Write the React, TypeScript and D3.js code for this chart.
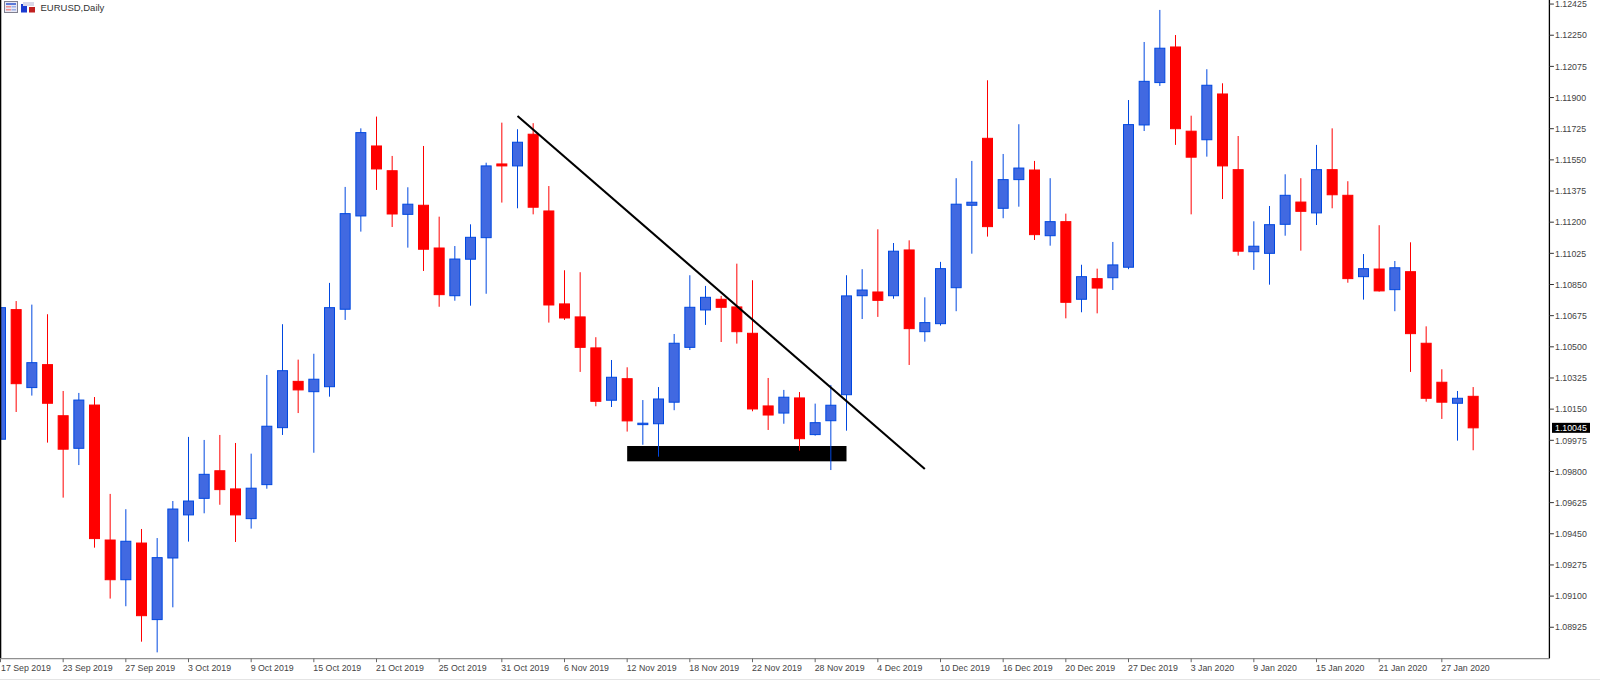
import React from "react";
import * as d3 from "d3";

const opens = [1.09981,1.10709,1.10271,1.10400,1.10113,1.09930,1.10173,1.09415,1.09192,1.09398,1.08968,1.09314,1.09556,1.09649,1.09804,1.09702,1.09535,1.09726,1.10046,1.10306,1.10248,1.10276,1.10711,1.11235,1.11628,1.11489,1.11244,1.11295,1.11055,1.10787,1.10992,1.11113,1.11527,1.11516,1.11694,1.11263,1.10741,1.10668,1.10494,1.10200,1.10321,1.10063,1.10068,1.10189,1.10497,1.10707,1.10767,1.10724,1.10576,1.10168,1.10128,1.10213,1.10007,1.10085,1.10231,1.10787,1.10808,1.10787,1.11044,1.10585,1.10630,1.10832,1.11295,1.11671,1.11278,1.11439,1.11493,1.11124,1.11203,1.10767,1.10883,1.10888,1.10947,1.11746,1.11984,1.12184,1.11711,1.11663,1.11920,1.11495,1.11034,1.11025,1.11188,1.11313,1.11252,1.11495,1.11351,1.10894,1.10937,1.10821,1.10922,1.10520,1.10301,1.10183,1.10222];
const closes = [1.10720,1.10293,1.10411,1.10183,1.09925,1.10201,1.09423,1.09192,1.09408,1.08990,1.09316,1.09589,1.09634,1.09784,1.09698,1.09556,1.09706,1.10054,1.10366,1.10258,1.10318,1.10720,1.11248,1.11703,1.11499,1.11246,1.11301,1.11048,1.10793,1.10993,1.11115,1.11516,1.11516,1.11649,1.11284,1.10735,1.10662,1.10497,1.10194,1.10329,1.10084,1.10071,1.10207,1.10520,1.10722,1.10778,1.10722,1.10585,1.10151,1.10117,1.10217,1.09984,1.10074,1.10172,1.10786,1.10819,1.10761,1.11037,1.10602,1.10636,1.10939,1.11301,1.11312,1.11175,1.11439,1.11504,1.11130,1.11203,1.10750,1.10894,1.10830,1.10960,1.11748,1.11991,1.12177,1.11725,1.11565,1.11969,1.11516,1.11037,1.11065,1.11186,1.11351,1.11261,1.11495,1.11354,1.10883,1.10939,1.10814,1.10944,1.10574,1.10211,1.10189,1.10211,1.10045];
const highs = [1.10720,1.10757,1.10737,1.10683,1.10252,1.10241,1.10218,1.09674,1.09588,1.09477,1.09426,1.09634,1.09994,1.09977,1.10005,1.09960,1.09900,1.10342,1.10627,1.10428,1.10461,1.10859,1.11398,1.11727,1.11793,1.11572,1.11396,1.11628,1.11231,1.11066,1.11188,1.11534,1.11759,1.11722,1.11756,1.11403,1.10930,1.10919,1.10554,1.10426,1.10385,1.10201,1.10274,1.10572,1.10902,1.10842,1.10786,1.10967,1.10874,1.10325,1.10258,1.10246,1.10181,1.10286,1.10902,1.10936,1.11160,1.11083,1.11098,1.10778,1.10977,1.11447,1.11544,1.11997,1.11583,1.11750,1.11544,1.11447,1.11248,1.10961,1.10939,1.11089,1.11886,1.12212,1.12392,1.12251,1.11798,1.12059,1.11980,1.11684,1.11205,1.11291,1.11469,1.11447,1.11634,1.11727,1.11430,1.11021,1.11183,1.10982,1.11087,1.10615,1.10374,1.10252,1.10274];
const lows = [1.09981,1.10134,1.10226,1.09962,1.09653,1.09836,1.09372,1.09086,1.09043,1.08844,1.08784,1.09037,1.09406,1.09565,1.09613,1.09404,1.09479,1.09703,1.10005,1.10128,1.09905,1.10220,1.10651,1.11147,1.11381,1.11173,1.11057,1.10926,1.10725,1.10759,1.10731,1.10798,1.11310,1.11278,1.11244,1.10636,1.10651,1.10359,1.10166,1.10162,1.10024,1.09950,1.09883,1.10144,1.10482,1.10623,1.10527,1.10518,1.10138,1.10033,1.10068,1.09917,1.10001,1.09808,1.10029,1.10656,1.10668,1.10770,1.10398,1.10529,1.10619,1.10700,1.11023,1.11119,1.11222,1.11287,1.11100,1.11068,1.10660,1.10694,1.10688,1.10819,1.10936,1.11712,1.11965,1.11634,1.11244,1.11568,1.11330,1.11012,1.10932,1.10849,1.11124,1.11040,1.11184,1.11278,1.10860,1.10765,1.10810,1.10700,1.10359,1.10192,1.10095,1.09973,1.09919];

const priceTicks = ["1.12425","1.12250","1.12075","1.11900","1.11725","1.11550","1.11375","1.11200","1.11025","1.10850","1.10675","1.10500","1.10325","1.10150","1.09975","1.09800","1.09625","1.09450","1.09275","1.09100","1.08925"];
const dateLabels = ["17 Sep 2019","23 Sep 2019","27 Sep 2019","3 Oct 2019","9 Oct 2019","15 Oct 2019","21 Oct 2019","25 Oct 2019","31 Oct 2019","6 Nov 2019","12 Nov 2019","18 Nov 2019","22 Nov 2019","28 Nov 2019","4 Dec 2019","10 Dec 2019","16 Dec 2019","20 Dec 2019","27 Dec 2019","3 Jan 2020","9 Jan 2020","15 Jan 2020","21 Jan 2020","27 Jan 2020"];
const labelEvery = 4;
const title = "EURUSD,Daily";
const lastPrice = 1.10045;
const trendFrom = { index: 33, price: 1.11796 };
const trendTo = { index: 59, price: 1.09814 };
const zone = { fromIndex: 40, toIndex: 54, top: 1.09943, bottom: 1.09857 };

const W = 1600, H = 680;
const axisX = 1549.4, axisY = 658.6;
const x = d3.scaleLinear().domain([0, 94]).range([0.5, 1473.17]);
const y = d3.scaleLinear().domain([1.11725, 1.09975]).range([128.7, 440.3]);

const BLUE_BODY = "#4169e1", BLUE_EDGE = "#0048e0", RED = "#ff0000";
const FONT = "'Liberation Sans', Arial, sans-serif";

export default function App() {
  const trend = d3.line<{ index: number; price: number }>().x(d => x(d.index)).y(d => y(d.price));
  return (
    <svg width={W} height={H} viewBox={`0 0 ${W} ${H}`} style={{ position: "absolute", left: 0, top: 0, display: "block", background: "#fff" }}>
      <rect x={x(zone.fromIndex)} y={y(zone.top)} width={x(zone.toIndex) - x(zone.fromIndex)} height={y(zone.bottom) - y(zone.top)} fill="#000" />
      {opens.map((o, i) => {
        const c = closes[i];
        const up = c > o || (c === o && i % 2 === 1);
        const cx = x(i);
        const edge = up ? BLUE_EDGE : RED;
        const top = y(Math.max(o, c)), bot = y(Math.min(o, c));
        return (
          <g key={i}>
            <line x1={cx} x2={cx} y1={y(highs[i])} y2={y(lows[i])} stroke={edge} strokeWidth={1} />
            <rect x={cx - 5} y={top} width={10} height={Math.max(bot - top, 0.5)} fill={up ? BLUE_BODY : RED} stroke={edge} strokeWidth={1} />
          </g>
        );
      })}
      <path d={trend([trendFrom, trendTo]) ?? ""} stroke="#000" strokeWidth={2.1} fill="none" />

      {/* frame */}
      <line x1={0.6} x2={0.6} y1={0} y2={axisY} stroke="#000" strokeWidth={1.4} />
      <line x1={axisX} x2={axisX} y1={0} y2={axisY} stroke="#000" strokeWidth={1.3} />
      <line x1={0} x2={axisX} y1={axisY} y2={axisY} stroke="#909090" strokeWidth={1.3} />
      <line x1={0} x2={W} y1={679.5} y2={679.5} stroke="#e4e4e4" strokeWidth={1} />

      {/* price axis */}
      {priceTicks.map(t => (
        <g key={t}>
          <line x1={axisX} x2={axisX + 4.5} y1={y(+t)} y2={y(+t)} stroke="#333" strokeWidth={1} />
          <text x={1555} y={y(+t) + 3.2} fontFamily={FONT} fontSize={8.8} fill="#444">{t}</text>
        </g>
      ))}
      <rect x={1552} y={y(lastPrice) - 5} width={38} height={10} fill="#000" />
      <text x={1555} y={y(lastPrice) + 3.2} fontFamily={FONT} fontSize={8.8} fill="#fff">{lastPrice.toFixed(5)}</text>

      {/* date axis */}
      {dateLabels.map((d, k) => {
        const tx = x(k * labelEvery);
        return (
          <g key={d}>
            <line x1={tx} x2={tx} y1={axisY} y2={axisY + 3.6} stroke="#666" strokeWidth={1} />
            <text x={tx + (k === 0 ? 0.5 : -0.5)} y={671} fontFamily={FONT} fontSize={8.8} fill="#444">{d}</text>
          </g>
        );
      })}

      {/* header */}
      <g>
        <rect x={4.5} y={1.5} width={13} height={11} fill="#e8e8f4" stroke="#808090" />
        <rect x={6} y={3} width={10} height={2} fill="#5a78d8" />
        <rect x={6} y={6} width={5} height={1.5} fill="#f09090" />
        <rect x={11.5} y={6} width={4.5} height={1.5} fill="#9ab0e8" />
        <rect x={6} y={9} width={5} height={1.5} fill="#f09090" />
        <rect x={11.5} y={9} width={4.5} height={1.5} fill="#9ab0e8" />
        <rect x={21} y={4} width={6} height={8.5} fill="#1a3ad0" />
        <rect x={29} y={7} width={6} height={5.5} fill="#c02020" />
        <rect x={23} y={2} width={11} height={4} fill="#d8d8e8" />
      </g>
      <text x={40.5} y={11} fontFamily={FONT} fontSize={9.5} fill="#333">{title}</text>
    </svg>
  );
}
